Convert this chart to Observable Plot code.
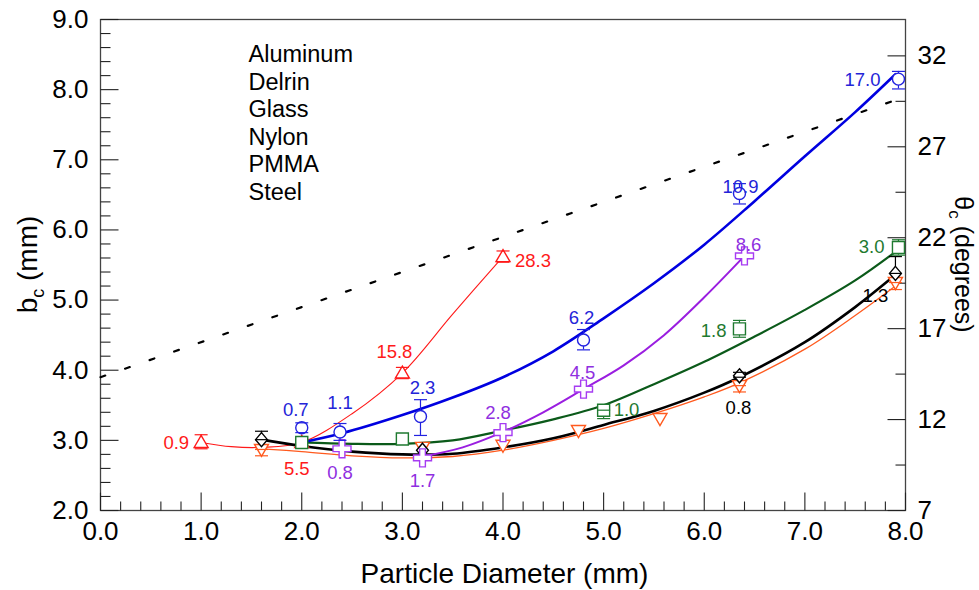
<!DOCTYPE html>
<html><head><meta charset="utf-8">
<script src="https://cdn.jsdelivr.net/npm/d3@7"></script>
<script src="https://cdn.jsdelivr.net/npm/@observablehq/plot@0.6"></script>
<style>
html,body{margin:0;padding:0;background:#fff;}
</style></head><body><div id="chart"></div>
<script>
// ---------------- data ----------------
const legendNames = ["Aluminum", "Delrin", "Glass", "Nylon", "PMMA", "Steel"];
const xTickValues = [0, 1, 2, 3, 4, 5, 6, 7, 8];
const yTickValues = [2, 3, 4, 5, 6, 7, 8, 9];
const thetaTickValues = [7, 12, 17, 22, 27, 32];
const thetaMinorValues = [9.5, 14.5, 19.5, 24.5, 29.5];
const thetaDomain = [7, 34];

// red (up triangles)
const redD = [1.0, 2.0, 3.0, 4.0];
const redB = [2.97, 2.97, 3.96, 5.62];
const redLo = [2.88, 2.92, 3.88, 5.54];
const redHi = [3.08, 3.02, 4.04, 5.70];
const redLabels = ["0.9", "5.5", "15.8", "28.3"];
const redFitD = [1.0, 1.3, 1.6, 2.0, 2.5, 3.0, 3.5, 4.0];
const redFitB = [2.97, 2.91, 2.90, 2.97, 3.38, 3.96, 4.80, 5.62];

// blue (circles)
const blueD = [2.0, 2.38, 3.18, 4.8, 6.35, 7.93];
const blueB = [3.18, 3.12, 3.34, 4.43, 6.52, 8.15];
const blueLo = [3.11, 3.00, 3.07, 4.29, 6.37, 8.01];
const blueHi = [3.25, 3.24, 3.58, 4.58, 6.66, 8.26];
const blueLabels = ["0.7", "1.1", "2.3", "6.2", "10.9", "17.0"];
const blueFitD = [2.0, 2.4, 3.0, 3.5, 4.0, 4.5, 5.0, 5.5, 6.0, 6.5, 7.0, 7.5, 7.9];
const blueFitB = [2.97, 3.10, 3.36, 3.61, 3.90, 4.27, 4.74, 5.24, 5.79, 6.41, 7.05, 7.68, 8.22];

// green (squares)
const greenD = [2.0, 3.0, 5.0, 6.35, 7.93];
const greenB = [2.97, 3.02, 3.43, 4.59, 5.75];
const greenLo = [null, null, 3.31, 4.47, 5.64];
const greenHi = [null, null, 3.43, 4.71, 5.86];
const greenLabels = [null, null, "1.0", "1.8", "3.0"];
const greenFitD = [2.0, 2.5, 3.0, 3.5, 4.0, 4.5, 5.0, 5.5, 6.0, 6.5, 7.0, 7.5, 7.93];
const greenFitB = [2.97, 2.95, 2.95, 3.00, 3.14, 3.30, 3.50, 3.80, 4.12, 4.48, 4.86, 5.28, 5.72];

// purple (crosses)
const purpleD = [2.4, 3.2, 4.0, 4.8, 6.4];
const purpleB = [2.88, 2.75, 3.11, 3.73, 5.63];
const purpleLabels = ["0.8", "1.7", "2.8", "4.5", "8.6"];
const purpleFitD = [3.2, 3.6, 4.0, 4.4, 4.8, 5.2, 5.6, 6.0, 6.4];
const purpleFitB = [2.77, 2.90, 3.12, 3.40, 3.73, 4.07, 4.50, 5.04, 5.63];

// black (diamonds)
const blackD = [1.6, 3.2, 6.35, 7.9];
const blackB = [3.01, 2.86, 3.92, 5.38];
const blackLo = [3.01, null, 3.90, 5.38];
const blackHi = [3.13, null, 3.97, 5.62];
const blackLabels = [null, null, "0.8", "1.3"];
const blackFitD = [1.6, 2.0, 2.5, 3.0, 3.5, 4.0, 4.5, 5.0, 5.5, 6.0, 6.35, 7.0, 7.5, 7.9];
const blackFitB = [3.01, 2.92, 2.84, 2.80, 2.81, 2.90, 3.03, 3.22, 3.42, 3.68, 3.90, 4.40, 4.90, 5.36];

// orange (down triangles)
const orangeD = [1.6, 3.2, 4.0, 4.75, 5.56, 6.35, 7.9];
const orangeB = [2.87, 2.90, 2.93, 3.14, 3.31, 3.78, 5.25];
const orangeLo = [2.78, null, null, null, null, 3.69, 5.15];
const orangeHi = [2.87, null, null, null, null, 3.78, 5.25];
const orangeFitD = [1.6, 2.0, 2.5, 3.0, 3.5, 4.0, 4.5, 5.0, 5.5, 6.0, 6.35, 7.0, 7.5, 7.9];
const orangeFitB = [2.88, 2.84, 2.78, 2.75, 2.77, 2.86, 3.00, 3.17, 3.38, 3.62, 3.82, 4.30, 4.78, 5.20];

// dotted reference line
const refD = [0.0, 7.9];
const refB = [3.90, 7.85];

// ---------------- layout / style ----------------
const W = 979, H = 590, mL = 100, mR = 74, mT = 19, mB = 80;
const FONT = "'Liberation Sans', Arial, Helvetica, sans-serif";

// label offsets (px) per series, aligned with label arrays
const redLabelPos = [["end", -12, 1], ["middle", -5, 27], ["middle", -8, -21], ["start", 12, 4]];
const blueLabelPos = [["middle", -6, -18], ["middle", 0, -29], ["middle", 2, -28], ["middle", -2, -22], ["middle", 1, -6], ["end", -18, 1]];
const greenLabelPos = [null, null, ["start", 10, 0], ["end", -13, 2], ["end", -14, 0]];
const purpleLabelPos = [["middle", -2, 24], ["middle", 0, 23], ["middle", -5, -20], ["middle", -1, -16], ["middle", 4, -11]];
const blackLabelPos = [null, null, ["middle", -1, 32], ["middle", -20, 23]];

// custom symbols
const rad = s => Math.sqrt(s / Math.PI);
const symUp = {draw(c, s) { const r = rad(s); c.moveTo(0, -r); c.lineTo(r, r * 0.72); c.lineTo(-r, r * 0.72); c.closePath(); }};
const symDown = {draw(c, s) { const r = rad(s); c.moveTo(0, r); c.lineTo(r, -r * 0.72); c.lineTo(-r, -r * 0.72); c.closePath(); }};
const symSquare = {draw(c, s) { const r = rad(s); c.moveTo(-r, -r); c.lineTo(r, -r); c.lineTo(r, r); c.lineTo(-r, r); c.closePath(); }};
const symDiamond = {draw(c, s) { const r = rad(s); c.moveTo(0, -r); c.lineTo(r * 0.85, 0); c.lineTo(0, r); c.lineTo(-r * 0.85, 0); c.closePath(); }};
const symPlus = {draw(c, s) { const r = rad(s), a = r * 0.32;
  c.moveTo(-a, -r); c.lineTo(a, -r); c.lineTo(a, -a); c.lineTo(r, -a); c.lineTo(r, a); c.lineTo(a, a);
  c.lineTo(a, r); c.lineTo(-a, r); c.lineTo(-a, a); c.lineTo(-r, a); c.lineTo(-r, -a); c.lineTo(-a, -a); c.closePath(); }};
const symCap = {draw(c, s) { const r = rad(s); c.moveTo(-r, 0); c.lineTo(r, 0); }};
const tickUp = {draw(c, s) { const r = rad(s); c.moveTo(0, 0); c.lineTo(0, -r); }};
const tickRight = {draw(c, s) { const r = rad(s); c.moveTo(0, 0); c.lineTo(r, 0); }};
const tickLeft = {draw(c, s) { const r = rad(s); c.moveTo(0, 0); c.lineTo(-r, 0); }};

const toB = t => 2 + (t - thetaDomain[0]) * 7 / (thetaDomain[1] - thetaDomain[0]);

function makePts(D, B, Lo, Hi, Lab, Pos) {
  return D.map((d, i) => ({d, b: B[i], lo: Lo ? Lo[i] : null, hi: Hi ? Hi[i] : null,
    label: Lab ? Lab[i] : null, pos: Pos ? Pos[i] : null}));
}
function makeFit(D, B) { return D.map((d, i) => ({d, b: B[i]})); }

const series = [
  {pts: makePts(redD, redB, redLo, redHi, redLabels, redLabelPos), fit: makeFit(redFitD, redFitB),
   line: "#ff1a1a", lw: 1.1, mark: "#ff1a1a", text: "#ff1a1a", sym: symUp, r: 7},
  {pts: makePts(orangeD, orangeB, orangeLo, orangeHi, null, null), fit: makeFit(orangeFitD, orangeFitB),
   line: "#ff5a1e", lw: 1.3, mark: "#ff5a1e", text: "#ff5a1e", sym: symDown, r: 7},
  {pts: makePts(greenD, greenB, greenLo, greenHi, greenLabels, greenLabelPos), fit: makeFit(greenFitD, greenFitB),
   line: "#0b5a1a", lw: 2.2, mark: "#1f7a30", text: "#1f7a30", sym: symSquare, r: 6},
  {pts: makePts(blackD, blackB, blackLo, blackHi, blackLabels, blackLabelPos), fit: makeFit(blackFitD, blackFitB),
   line: "#000000", lw: 2.6, mark: "#000000", text: "#000000", sym: symDiamond, r: 7},
  {pts: makePts(purpleD, purpleB, null, null, purpleLabels, purpleLabelPos), fit: makeFit(purpleFitD, purpleFitB),
   line: "#9a1ee0", lw: 2.0, mark: "#a63cf2", text: "#8f2fe0", sym: symPlus, r: 9},
  {pts: makePts(blueD, blueB, blueLo, blueHi, blueLabels, blueLabelPos), fit: makeFit(blueFitD, blueFitB),
   line: "#0000e0", lw: 2.6, mark: "#2222e0", text: "#2424d8", sym: "circle", r: 6}
];

// ticks
const xMinor = d3.range(0, 8.0001, 0.2).map(v => +v.toFixed(1)).filter(v => !xTickValues.includes(v));
const yMinor = d3.range(2, 9.0001, 0.2).map(v => +v.toFixed(1)).filter(v => !yTickValues.includes(v));

const marks = [];
marks.push(Plot.frame({stroke: "#444", strokeWidth: 1.3}));
marks.push(Plot.dot(xTickValues, {x: d => d, y: () => 2, symbol: tickUp, r: 18, stroke: "#222", fill: "none", strokeWidth: 1.1}));
marks.push(Plot.dot(xMinor, {x: d => d, y: () => 2, symbol: tickUp, r: 9, stroke: "#222", fill: "none", strokeWidth: 1.1}));
marks.push(Plot.dot(yTickValues, {x: () => 0, y: d => d, symbol: tickRight, r: 18, stroke: "#222", fill: "none", strokeWidth: 1.1}));
marks.push(Plot.dot(yMinor, {x: () => 0, y: d => d, symbol: tickRight, r: 10, stroke: "#222", fill: "none", strokeWidth: 1.1}));
marks.push(Plot.dot(thetaTickValues, {x: () => 8, y: d => toB(d), symbol: tickLeft, r: 18, stroke: "#222", fill: "none", strokeWidth: 1.1}));
marks.push(Plot.dot(thetaMinorValues, {x: () => 8, y: d => toB(d), symbol: tickLeft, r: 10, stroke: "#222", fill: "none", strokeWidth: 1.1}));
marks.push(Plot.axisX(xTickValues, {tickSize: 0, tickPadding: 11, tickFormat: d => d.toFixed(1), label: null, fontSize: 26}));
marks.push(Plot.axisY(yTickValues, {anchor: "left", tickSize: 0, tickPadding: 12, tickFormat: d => d.toFixed(1), label: null, fontSize: 26}));
marks.push(Plot.axisY(thetaTickValues.map(toB), {anchor: "right", tickSize: 0, tickPadding: 12,
  tickFormat: b => String(Math.round(thetaDomain[0] + (b - 2) * (thetaDomain[1] - thetaDomain[0]) / 7)), label: null, fontSize: 26}));

marks.push(Plot.line(makeFit(refD, refB), {x: "d", y: "b", stroke: "#000", strokeWidth: 2.2, strokeDasharray: "5,21"}));

for (const s of series) {
  marks.push(Plot.line(s.fit, {x: "d", y: "b", stroke: s.line, strokeWidth: s.lw, curve: "catmull-rom"}));
}
for (const s of series) {
  const err = s.pts.filter(p => p.lo != null && p.hi != null && p.hi > p.lo);
  marks.push(Plot.ruleX(err, {x: "d", y1: "lo", y2: "hi", stroke: s.mark, strokeWidth: 1.2}));
  marks.push(Plot.dot(s.pts, {x: "d", y: "b", symbol: s.sym, r: s.r, stroke: s.mark, fill: "white", strokeWidth: 1.4}));
  const caps = err.flatMap(p => [{d: p.d, v: p.lo}, {d: p.d, v: p.hi}]);
  marks.push(Plot.dot(caps, {x: "d", y: "v", symbol: symCap, r: 6.5, stroke: s.mark, fill: "none", strokeWidth: 1.2}));
  for (const p of s.pts) {
    if (!p.label) continue;
    const [anchor, dx, dy] = p.pos;
    marks.push(Plot.text([p], {x: "d", y: "b", text: "label", textAnchor: anchor, dx, dy, fill: s.text, fontSize: 18.5, lineAnchor: "middle"}));
  }
}

marks.push(Plot.text([legendNames.join("\n")], {frameAnchor: "top-left", dx: 148, dy: 23, lineAnchor: "top",
  textAnchor: "start", lineHeight: 1.174, fontSize: 23.5, fill: "#000"}));

const plot = Plot.plot({
  width: W, height: H,
  marginLeft: mL, marginRight: mR, marginTop: mT, marginBottom: mB,
  x: {domain: [0, 8]},
  y: {domain: [2, 9]},
  style: {fontFamily: FONT, fontSize: "26px", color: "#000", background: "#fff", overflow: "visible"},
  marks
});

const svg = d3.select(plot.tagName === "svg" ? plot : plot.querySelector("svg"));
const cx = (mL + W - mR) / 2, cy = (mT + H - mB) / 2;
const tg = svg.append("g").attr("font-family", FONT).attr("fill", "#000");
tg.append("text").attr("x", cx + 2).attr("y", 583).attr("text-anchor", "middle").attr("font-size", 28).text("Particle Diameter (mm)");
const lt = tg.append("text").attr("transform", `translate(37,${cy})rotate(-90)`).attr("text-anchor", "middle").attr("font-size", 28);
lt.append("tspan").text("b");
lt.append("tspan").attr("font-size", 18).attr("dy", 7).text("c");
lt.append("tspan").attr("dy", -7).text(" (mm)");
const rt = tg.append("text").attr("transform", `translate(955,${cy})rotate(90)`).attr("text-anchor", "middle").attr("font-size", 25);
rt.append("tspan").text("θ");
rt.append("tspan").attr("font-size", 17).attr("dy", 6).text("c");
rt.append("tspan").attr("dy", -6).text(" (degrees)");

document.getElementById("chart").appendChild(plot);
</script>
</body></html>
